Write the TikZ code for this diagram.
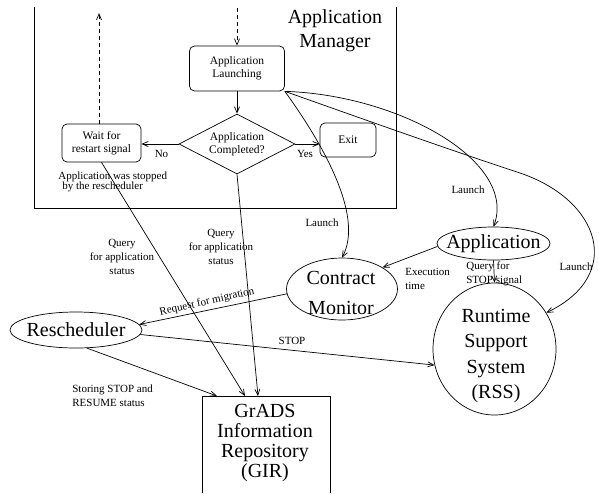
\documentclass[tikz,border=0pt]{standalone}
\usepackage{fontspec}
\setmainfont{Liberation Serif}
\usetikzlibrary{shapes.geometric,arrows.meta}
\begin{document}
\begin{tikzpicture}[x=1pt,y=-1pt, line width=0.7pt,
  >={Straight Barb[length=6pt,width=5pt]},
  small/.style={font=\fontsize{11}{14}\selectfont, inner sep=1pt},
  boxtext/.style={font=\fontsize{11.5}{13}\selectfont, align=center},
  big/.style={font=\fontsize{20}{24}\selectfont, align=center, inner sep=0pt},
  rbox/.style={draw, rounded corners=5pt, inner sep=0pt, align=center, font=\fontsize{11.5}{13}\selectfont},
  oval/.style={draw, ellipse, inner sep=0pt},
  dashedarrow/.style={->, dash pattern=on 4pt off 3pt},
]
\useasboundingbox (0,0) rectangle (599,493);

% Application Manager frame
\draw (34,7) -- (34,208) -- (396,208) -- (396,7);
\node[big] (amtitle) at (335,31) {Application\\Manager};

% flow chart inside
\node[rbox, minimum width=95pt, minimum height=45pt] (launch) at (237,68.5) {Application\\Launching};
\node[draw, diamond, minimum width=116pt, minimum height=60pt, inner sep=0pt, shape aspect=2, boxtext] (dec) at (237,144) {Application\\Completed?};
\node[rbox, minimum width=79pt, minimum height=38pt] (wait) at (101.5,143) {Wait for\\restart signal};
\node[rbox, minimum width=56pt, minimum height=34pt] (exit) at (348,140) {Exit};

\coordinate (upend) at (99,13);
\coordinate (dnstart) at (237,8);
\draw[dashedarrow] (upend |- wait.north) -- (upend);
\draw[dashedarrow] (dnstart) -- (launch.north);
\draw[->] (launch) -- (dec);
\draw[->] (dec.west) -- (dec.west -| wait.east);
\draw[->] (dec.east) -- (dec.east -| exit.west);
\node[small] (no) at (161.5,153.5) {No};
\node[small] (yes) at (305,154) {Yes};
\node[small, align=left, anchor=west, font=\fontsize{11}{10}\selectfont] (stopped) at (57,182) {Application was stopped\\\hspace*{4pt}by the rescheduler};

% GIR
\draw (202,493) -- (202,396) -- (330,396) -- (330,493);
\node[big, font=\fontsize{20}{20}\selectfont] (gir) at (265,443) {GrADS\\Information\\Repository\\(GIR)};
\coordinate (girA) at (217,396);
\coordinate (girB) at (245,396);
\coordinate (girC) at (258,396);

% ellipses
\node[oval, minimum width=132pt, minimum height=36pt, label={[big]center:Rescheduler}] (resch) at (76,330) {};
\node[oval, minimum width=111pt, minimum height=62pt] (cm) at (342,289) {};
\node[big, font=\fontsize{20}{30}\selectfont] (cmtext) at (341,293) {Contract\\Monitor};
\node[oval, minimum width=113pt, minimum height=33pt, label={[big]center:Application}] (app) at (493.5,243.5) {};
\node[oval, minimum width=123pt, minimum height=132pt] (rss) at (494.5,349) {};
\node[big, font=\fontsize{20}{25.5}\selectfont] (rsstext) at (496,356) {Runtime\\Support\\System\\(RSS)};

% connectors
\draw[->] (wait.south) -- (girB);
\draw[->] (dec.south) -- (girC);
\draw[->] (resch.-59) -- (girA);
\draw[->] (cm.185) -- (resch.5);
\draw[->] (resch.-4) -- (rss.195);
\draw[->] (app.183) -- (cm.28);
\draw[->] (app.south) -- (rss.north);
\coordinate (rssmid) at (520,173);
\draw[->] (launch.south east) .. controls (320,140) and (365,215) .. (cm.north);
\draw[->] (launch.south east) .. controls (400,95) and (518,162) .. (app.north);
\draw[->] (launch.south east) .. controls (360,118) and (450,150) .. (rssmid) .. controls (600,200) and (625,275) .. (rss.35);

% labels
\node[small, rotate=12.5] (reqlbl) at (207,302) {Request for migration};
\node[small] (lnch1) at (322,223) {Launch};
\node[small] (lnch2) at (468,190) {Launch};
\node[small] (lnch3) at (576,267) {Launch};
\node[small, align=left, anchor=west] (exec) at (404,278.5) {Execution\\time};
\node[small, align=left, anchor=west] (qstop) at (465,273.5) {Query for\\STOP signal};
\node[small, align=center] (q1) at (122,257) {Query\\for application\\status};
\node[small, align=center] (q2) at (221,247) {Query\\for application\\status};
\node[small] (stoplbl) at (292,341) {STOP};
\node[small, align=left, anchor=west] (storing) at (71,395.5) {Storing STOP and\\RESUME status};
\end{tikzpicture}
\end{document}
